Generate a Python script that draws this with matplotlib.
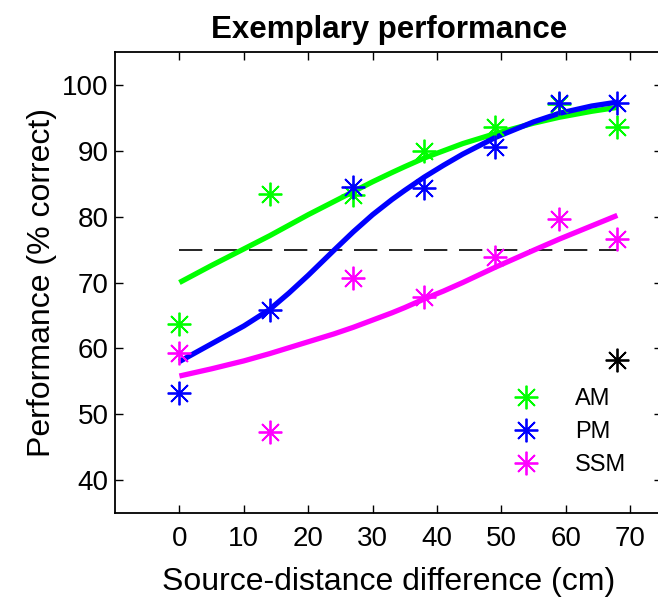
import numpy as np
import matplotlib
matplotlib.use("Agg")
import matplotlib.pyplot as plt
from matplotlib.lines import Line2D

plt.rcParams['font.family'] = ['Liberation Sans', 'DejaVu Sans']

# measured points
dist = [0, 14, 27, 38, 49, 59, 68]
am = [63.7, 83.4, 83.3, 89.9, 93.6, 97.1, 93.6]
pm = [53.2, 65.8, 84.5, 84.3, 90.6, 97.2, 97.2]
ssm = [59.3, 47.3, 70.7, 67.8, 73.9, 79.6, 76.6]

# fitted curves
fit_x = [0, 5, 10, 14, 17, 20, 24, 27, 30, 33, 35, 38, 41, 44, 49, 55, 59, 64, 68]
am_fit = [70.0, 72.6, 75.1, 77.1, 78.7, 80.3, 82.3, 83.8, 85.3, 86.7, 87.6, 88.9,
          90.0, 91.1, 92.6, 94.2, 95.1, 96.0, 96.6]
pm_fit = [58.0, 60.7, 63.4, 65.9, 68.4, 71.1, 74.9, 77.7, 80.3, 82.6, 84.0, 86.0,
          87.8, 89.5, 92.0, 94.4, 95.7, 96.8, 97.4]
ssm_fit = [55.8, 56.9, 58.1, 59.2, 60.1, 61.0, 62.2, 63.2, 64.3, 65.4, 66.2, 67.5,
           68.7, 70.0, 72.3, 74.9, 76.6, 78.6, 80.2]

threshold = 75
extra_x, extra_y = 68, 58.3

colors = {"AM": "#00ff00", "PM": "#0000ff", "SSM": "#ff00ff"}
star = (8, 2, 0)

fig = plt.figure(figsize=(6.58, 6.01), dpi=100)
ax = fig.add_axes([0.1748, 0.1464, 0.8319, 0.767])

ax.plot([0, 68], [threshold, threshold], color="black", lw=1.2, dashes=(14, 7))

for name, fit in [("AM", am_fit), ("PM", pm_fit), ("SSM", ssm_fit)]:
    ax.plot(fit_x, fit, color=colors[name], lw=3.8, solid_capstyle="butt",
            solid_joinstyle="round")
for name, pts in [("AM", am), ("PM", pm), ("SSM", ssm)]:
    ax.plot(dist, pts, linestyle="none", marker=star, ms=17, mew=1.3,
            color=colors[name])
ax.plot([extra_x], [extra_y], linestyle="none", marker=star, ms=17, mew=1.3, color="black")

handles = [Line2D([], [], linestyle="none", marker=star, ms=17, mew=1.3, color=colors[k])
           for k in ["AM", "PM", "SSM"]]
ax.legend(handles, ["AM", "PM", "SSM"], frameon=False, fontsize=17,
          loc="lower left", bbox_to_anchor=(0.69, 0.06), handletextpad=1.1,
          labelspacing=0.46, borderaxespad=0)

ax.set_xlim(-10, 75)
ax.set_ylim(35, 105)
ax.set_xticks(range(0, 71, 10))
ax.set_yticks(range(40, 101, 10))
ax.tick_params(direction="in", length=6, width=1, labelsize=20,
               top=True, right=True)
ax.tick_params(axis="x", pad=9)
ax.tick_params(axis="y", pad=4.5)
for s in ax.spines.values():
    s.set_linewidth(1.3)

ax.set_xlabel("Source-distance difference (cm)", fontsize=23, labelpad=11)
ax.set_ylabel("Performance (% correct)", fontsize=23, labelpad=4)
ax.set_title("Exemplary performance", fontsize=22.5, fontweight="bold", pad=10)

fig.savefig("out.png", dpi=100)
